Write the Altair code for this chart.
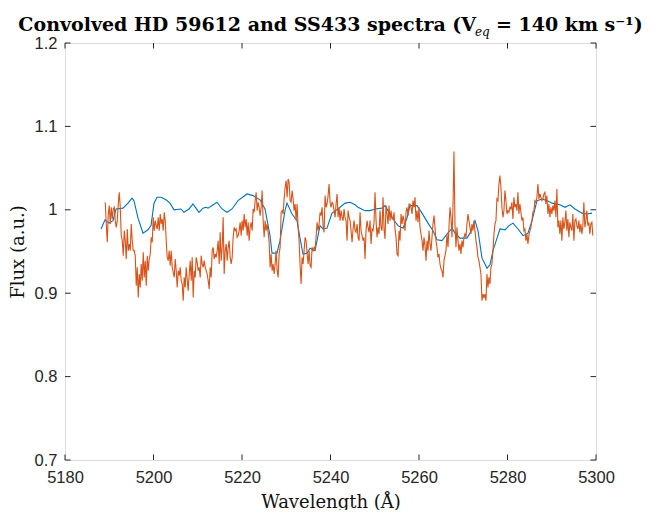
import altair as alt
import pandas as pd

# SS433 spectrum (orange), uniformly sampled
ss433_start = 5189.1
ss433_step = 0.2258
ss433_flux = [
    1.009, 0.983, 0.961, 0.995, 1.005, 0.983, 1.003, 0.989, 1.001, 1.003,
    0.987, 0.979, 0.987, 1.007, 1.021, 1.003, 0.969, 0.963, 0.945, 0.975,
    0.963, 0.941, 0.977, 0.951, 0.959, 0.951, 0.983, 0.963, 0.951, 0.951,
    0.945, 0.909, 0.931, 0.895, 0.923, 0.907, 0.935, 0.915, 0.949, 0.919,
    0.939, 0.909, 0.945, 0.927, 0.941, 0.947, 0.967, 0.961, 0.991, 0.975,
    0.987, 0.981, 0.977, 0.991, 0.975, 0.995, 0.983, 0.989, 0.975, 0.997,
    0.987, 0.963, 0.943, 0.939, 0.951, 0.933, 0.951, 0.931, 0.925, 0.919,
    0.941, 0.927, 0.907, 0.927, 0.921, 0.931, 0.915, 0.911, 0.891, 0.919,
    0.907, 0.931, 0.917, 0.903, 0.923, 0.939, 0.915, 0.943, 0.895, 0.927,
    0.919, 0.943, 0.937, 0.927, 0.931,
    0.919, 0.945, 0.935, 0.931, 0.939, 0.931, 0.927, 0.923, 0.915, 0.905,
    0.931, 0.919, 0.951, 0.955, 0.941, 0.947, 0.943, 0.951, 0.963, 0.935,
    0.973, 0.939, 0.955, 0.991, 0.923, 0.951, 0.959, 0.939, 0.955, 0.963,
    0.943, 0.935, 0.943, 0.967, 0.979, 0.975, 0.977, 0.967, 0.969, 0.975,
    0.985, 0.969, 0.987, 0.975, 0.995, 0.979, 0.989, 0.969, 0.985, 0.963,
    0.979, 0.985, 0.975, 1.001, 0.997, 1.011, 1.021, 0.999, 1.009, 1.003,
    0.993, 1.003, 1.023, 0.987, 0.967, 0.987, 0.975, 0.983, 0.973, 0.961,
    0.931, 0.947, 0.927, 0.935, 0.923, 0.935, 0.951, 0.927, 0.919, 0.947,
    0.955, 0.997, 0.999, 0.995, 1.013, 1.027, 1.035, 1.015, 1.037, 1.033,
    1.011, 1.009, 1.023, 1.013, 0.999, 1.007, 0.987, 1.007, 0.979, 0.963,
    0.933, 0.911, 0.943, 0.935, 0.951,
    0.967, 0.963, 0.947, 0.935, 0.951, 0.933, 0.931, 0.955, 0.951, 0.955,
    0.953, 0.967, 0.985, 0.975, 0.983, 0.997, 0.993, 1.003, 0.981, 0.973,
    1.017, 1.003, 1.007, 1.017, 1.031, 1.009, 1.003, 1.009, 1.007, 0.999,
    0.991, 1.007, 1.019, 0.991, 1.003, 0.987, 0.999, 0.991, 0.987, 1.001,
    0.991, 0.987, 0.963, 0.999, 0.991, 0.987, 0.975, 0.961, 0.977, 0.987,
    0.975, 0.973, 0.983, 0.967, 0.963, 0.997, 0.975, 0.969, 0.963, 0.967,
    0.941, 0.975, 0.987, 0.979, 0.973, 0.987, 0.959, 0.977, 0.975, 0.985,
    1.021, 0.987, 0.967, 0.979, 0.971, 0.999, 0.979, 0.975, 1.015, 0.977,
    0.965, 1.005, 0.995, 0.983, 1.005, 0.987, 0.999, 0.989, 0.989, 0.997,
    0.977, 0.967, 0.947, 0.945, 0.975, 0.963, 0.995, 0.983, 0.993, 0.987,
    0.975, 0.997, 1.003, 0.993, 1.007,
    1.007, 1.003, 0.995, 1.011, 1.003, 1.015, 0.987, 0.999, 0.985, 1.003,
    0.979, 0.971, 0.963, 0.951, 0.967, 0.957, 0.939, 0.963, 0.951, 0.975,
    0.959, 0.951, 0.967, 0.983, 0.993, 0.979, 0.963, 0.955, 0.943, 0.947,
    0.935, 0.929, 0.927, 0.919, 0.939, 0.945, 0.951, 0.971, 0.955, 0.979,
    1.003, 0.991, 0.967, 1.003, 1.070, 0.983, 0.955, 0.979, 0.963, 0.951,
    0.959, 0.947, 0.963, 0.955, 0.967, 0.971, 0.967, 0.983, 0.995, 0.987,
    0.979, 0.971, 0.983, 0.975, 0.987, 0.975, 0.963, 0.955, 0.943, 0.939,
    0.931, 0.923, 0.891, 0.899, 0.895, 0.899, 0.891, 0.923, 0.907, 0.919,
    0.911, 0.931, 0.935, 0.951, 0.971, 0.983, 0.987, 1.013, 1.011, 1.031,
    1.041, 1.027, 1.003, 0.991, 0.999, 1.023, 1.011, 0.995, 0.999, 0.997,
    1.003,
    1.001, 1.009, 0.989, 1.015, 1.003, 1.007, 0.999, 1.021, 0.995, 1.007,
    0.997, 0.987, 0.991, 0.975, 0.977, 0.963, 0.971, 0.959, 0.969, 0.975,
    0.979, 0.987, 0.997, 0.999, 1.011, 1.009, 1.015, 1.031, 1.013, 1.019,
    1.015, 1.011, 1.013, 1.019, 1.021, 1.007, 1.017, 0.995, 1.007, 0.991,
    1.003, 0.995, 1.005, 0.999, 1.011, 0.991, 1.025, 0.979, 0.987, 0.971,
    0.987, 0.963, 0.991, 0.977, 0.985, 0.999, 0.975, 0.989, 0.967, 0.985,
    0.979, 0.975, 0.995, 0.963, 0.987, 0.989, 0.981, 0.977, 0.987, 0.973,
    0.983, 0.971, 0.981, 1.009, 0.979, 0.987, 0.999, 0.981, 0.985, 0.971,
    0.983, 0.985, 0.969,
]

# Convolved HD 59612 spectrum (blue)
hd_wl = [
    5188.14, 5189.04, 5189.94, 5190.85, 5191.53, 5193.11, 5194.24, 5195.14, 5195.59, 5196.50,
    5197.63, 5198.76, 5199.44, 5200.11, 5200.79, 5201.69, 5202.82, 5203.73, 5204.63, 5206.21,
    5206.89, 5208.02, 5208.93, 5209.60, 5210.28, 5211.19, 5211.86, 5212.32, 5214.35, 5215.48,
    5216.61, 5217.74, 5219.10, 5221.13, 5222.49, 5224.07, 5225.20, 5226.33, 5226.78, 5227.91,
    5228.59, 5229.72, 5230.17, 5231.30, 5232.43, 5233.11, 5233.79, 5234.69, 5235.37, 5236.50,
    5237.63, 5238.31, 5239.21, 5240.34, 5241.69, 5243.28, 5244.41, 5245.54, 5246.21, 5247.80,
    5248.93, 5250.06, 5251.64, 5252.32, 5252.99, 5254.12, 5255.25, 5256.38, 5257.29, 5257.97,
    5259.55, 5260.68, 5262.03, 5263.16, 5264.07, 5265.20, 5266.33, 5267.46, 5268.14, 5269.27,
    5270.85, 5271.53, 5272.66, 5273.33, 5274.24, 5275.37, 5276.05, 5276.72, 5277.63, 5278.31,
    5279.44, 5280.34, 5281.24, 5282.37, 5283.50, 5284.63, 5285.54, 5286.67, 5287.80, 5288.93,
    5290.06, 5291.86, 5292.99, 5294.12, 5295.25, 5296.84, 5297.97, 5299.10,
]
hd_flux = [
    0.977, 0.988, 0.984, 0.987, 1.001, 1.002, 1.008, 1.014, 1.011, 0.990,
    0.972, 0.976, 0.981, 1.008, 1.015, 1.015, 1.012, 1.008, 1.000, 1.001,
    0.997, 1.001, 1.007, 1.002, 0.997, 1.002, 1.003, 1.002, 1.009, 1.001,
    0.997, 1.001, 1.011, 1.019, 1.017, 1.012, 1.001, 0.969, 0.948, 0.948,
    0.963, 0.999, 1.008, 0.995, 0.987, 0.966, 0.947, 0.948, 0.954, 0.951,
    0.981, 0.977, 0.978, 0.996, 1.001, 1.008, 1.009, 1.006, 1.003, 0.999,
    0.999, 1.001, 1.002, 1.005, 0.999, 0.989, 0.981, 0.978, 0.990, 1.005,
    1.005, 0.996, 0.984, 0.975, 0.964, 0.963, 0.971, 0.978, 0.972, 0.966,
    0.966, 0.972, 0.987, 0.975, 0.942, 0.930, 0.934, 0.951, 0.966, 0.977,
    0.976, 0.981, 0.984, 0.977, 0.969, 0.972, 0.987, 1.011, 1.013, 1.011,
    1.008, 1.006, 1.003, 1.006, 1.001, 0.996, 0.995, 0.996,
]

x_ticks = [5180, 5200, 5220, 5240, 5260, 5280, 5300]
y_ticks = [0.7, 0.8, 0.9, 1.0, 1.1, 1.2]
x_domain = [5180, 5300]
y_domain = [0.7, 1.2]

NB = "\u00a0"
title_main = "Convolved HD 59612 and SS433 spectra (V" + NB * 3 + "= 140 km s⁻¹)"
title_sub = "eq"

AX = "#262626"
W, H = 531, 417

ss_df = pd.DataFrame({
    "wl": [round(ss433_start + ss433_step * i, 4) for i in range(len(ss433_flux))],
    "flux": ss433_flux,
})
hd_df = pd.DataFrame({"wl": hd_wl, "flux": hd_flux})

xs = alt.Scale(domain=x_domain, nice=False, zero=False)
ys = alt.Scale(domain=y_domain, nice=False, zero=False)

x_axis = alt.Axis(values=x_ticks, format="d", grid=False, domain=False, ticks=False, tickSize=0,
                  labelFlush=False, labelFont="Liberation Sans", labelFontSize=16.5,
                  labelColor=AX, labelPadding=9,
                  title="Wavelength (Å)", titleFont="DejaVu Serif", titleFontSize=18,
                  titleFontWeight="normal", titleColor="#111111",
                  titleX=W / 2, titleY=42, titleAlign="center", titleBaseline="middle")
y_axis = alt.Axis(values=y_ticks, format="~g", grid=False, domain=False, ticks=False, tickSize=0,
                  labelFlush=False, labelFont="Liberation Sans", labelFontSize=16.5,
                  labelColor=AX, labelPadding=8,
                  title="Flux (a.u.)", titleFont="DejaVu Serif", titleFontSize=18,
                  titleFontWeight="normal", titleColor="#111111",
                  titleX=-47, titleY=H / 2, titleAngle=270, titleAlign="center",
                  titleBaseline="middle")

hd_line = alt.Chart(hd_df).mark_line(color="#0072BD", strokeWidth=1.1).encode(
    x=alt.X("wl:Q", scale=xs, axis=x_axis),
    y=alt.Y("flux:Q", scale=ys, axis=y_axis),
)
ss_line = alt.Chart(ss_df).mark_line(color="#D95319", strokeWidth=1.1).encode(
    x=alt.X("wl:Q", scale=xs),
    y=alt.Y("flux:Q", scale=ys),
)

# inward ticks (MATLAB style box)
tx = pd.DataFrame({"x": x_ticks})
ty = pd.DataFrame({"y": y_ticks})
dy = 5.5 * (y_domain[1] - y_domain[0]) / H
dx = 5.5 * (x_domain[1] - x_domain[0]) / W
tick_b = alt.Chart(tx).mark_rule(color=AX, strokeWidth=1).encode(
    x=alt.X("x:Q", scale=xs), y=alt.datum(y_domain[0]), y2=alt.datum(y_domain[0] + dy))
tick_t = alt.Chart(tx).mark_rule(color=AX, strokeWidth=1).encode(
    x=alt.X("x:Q", scale=xs), y=alt.datum(y_domain[1]), y2=alt.datum(y_domain[1] - dy))
tick_l = alt.Chart(ty).mark_rule(color=AX, strokeWidth=1).encode(
    y=alt.Y("y:Q", scale=ys), x=alt.datum(x_domain[0]), x2=alt.datum(x_domain[0] + dx))
tick_r = alt.Chart(ty).mark_rule(color=AX, strokeWidth=1).encode(
    y=alt.Y("y:Q", scale=ys), x=alt.datum(x_domain[1]), x2=alt.datum(x_domain[1] - dx))

title_txt = alt.Chart(pd.DataFrame({"t": [title_main]})).mark_text(
    font="DejaVu Serif", fontWeight="bold", fontSize=19, align="center",
    baseline="alphabetic", color="black").encode(
    text="t:N", x=alt.value(W / 2), y=alt.value(-12))
eq_text = alt.Chart(pd.DataFrame({"t": [title_sub]})).mark_text(
    font="DejaVu Serif", fontStyle="italic", fontSize=12, align="left",
    baseline="alphabetic", color="black").encode(
    text="t:N", x=alt.value(410), y=alt.value(-7))

chart = alt.layer(hd_line, ss_line, tick_b, tick_t, tick_l, tick_r, title_txt, eq_text).properties(
    width=W, height=H,
    padding={"left": 57, "top": 35, "right": 50, "bottom": 50},
    autosize=alt.AutoSizeParams(type="none"),
).configure_view(stroke=AX, strokeWidth=1).configure(background="white")

chart.save("out.html", embed_options={"renderer": "svg", "actions": False})
